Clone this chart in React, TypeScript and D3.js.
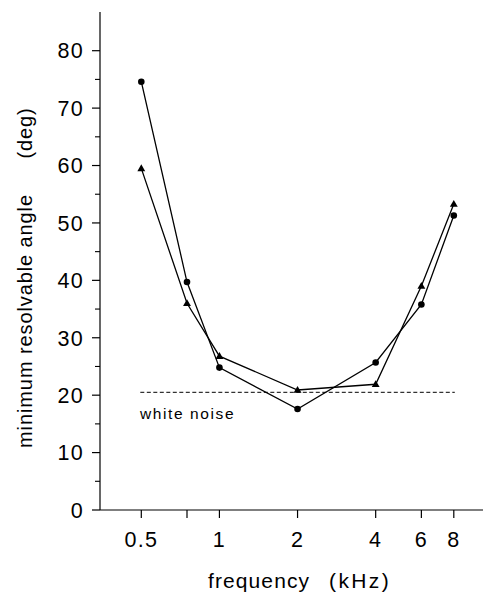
import React from "react";
import * as d3 from "d3";

const freqs = [0.5, 0.75, 1, 2, 4, 6, 8];
const circleSeries = [74.6, 39.7, 24.8, 17.6, 25.7, 35.8, 51.3];
const triangleSeries = [59.5, 36.0, 26.8, 20.9, 21.9, 39.0, 53.3];
const yMajorTicks = [0, 10, 20, 30, 40, 50, 60, 70, 80];
const yMinorTicks = [5, 15, 25, 35, 45, 55, 65, 75];
const xTicks = [0.5, 0.75, 1, 2, 4, 6, 8];
const xTickLabels = ["0.5", "", "1", "2", "4", "6", "8"];
const whiteNoiseLevel = 20.5;
const whiteNoiseRange = [0.5, 8];

const FONT = "'Liberation Sans', Arial, Helvetica, sans-serif";

export default function App() {
  const W = 484;
  const H = 597;
  const x = d3.scaleLog().domain([0.5, 8]).range([141.3, 453.8]);
  const y = d3.scaleLinear().domain([0, 80]).range([510, 50.7]);
  const axisX = 100;
  const axisY = y(0);

  const line = d3
    .line<number>()
    .x((_, i) => x(freqs[i]))
    .y((d) => y(d));

  const tri = d3.symbol(d3.symbolTriangle, 27)() as string;

  return (
    <svg
      width={W}
      height={H}
      style={{ position: "absolute", left: 0, top: 0, background: "#fff" }}
      fontFamily={FONT}
    >
      <rect x={0} y={0} width={W} height={H} fill="#fff" />
      {/* axes */}
      <line x1={axisX} x2={axisX} y1={12} y2={axisY} stroke="#000" strokeWidth={1.2} />
      <line x1={axisX} x2={483} y1={axisY} y2={axisY} stroke="#000" strokeWidth={1.2} />
      {yMajorTicks.map((t) => (
        <g key={"ym" + t}>
          <line x1={axisX - 8} x2={axisX} y1={y(t)} y2={y(t)} stroke="#000" strokeWidth={1.2} />
          <text
            x={84}
            y={y(t)}
            dy="0.36em"
            textAnchor="end"
            fontSize={21.5}
            letterSpacing={1.3}
            fill="#000"
          >
            {t}
          </text>
        </g>
      ))}
      {yMinorTicks.map((t) => (
        <line key={"yn" + t} x1={axisX - 5} x2={axisX} y1={y(t)} y2={y(t)} stroke="#000" strokeWidth={1.1} />
      ))}
      {xTicks.map((t, i) => (
        <g key={"x" + t}>
          <line x1={x(t)} x2={x(t)} y1={axisY} y2={axisY + 8} stroke="#000" strokeWidth={1.2} />
          {xTickLabels[i] && (
            <text
              x={x(t)}
              y={547}
              textAnchor="middle"
              fontSize={21.5}
              letterSpacing={1.3}
              fill="#000"
            >
              {xTickLabels[i]}
            </text>
          )}
        </g>
      ))}
      {/* axis titles */}
      <text x={208} y={588} fontSize={21} letterSpacing={1.1} fill="#000">
        frequency
      </text>
      <text x={329} y={588} fontSize={21} letterSpacing={2.4} fill="#000">
        (kHz)
      </text>
      <text
        transform={`translate(32,321) rotate(-90)`}
        textAnchor="middle"
        fontSize={20}
        letterSpacing={0.9}
        fill="#000"
      >
        minimum resolvable angle
      </text>
      <text
        transform={`translate(32,133) rotate(-90)`}
        textAnchor="middle"
        fontSize={20}
        letterSpacing={0.9}
        fill="#000"
      >
        (deg)
      </text>
      {/* white noise reference */}
      <line
        x1={x(whiteNoiseRange[0]) - 1}
        x2={x(whiteNoiseRange[1]) + 1}
        y1={y(whiteNoiseLevel)}
        y2={y(whiteNoiseLevel)}
        stroke="#000"
        strokeWidth={1}
        strokeDasharray="4,2.5"
      />
      <text x={140} y={419} fontSize={15.5} letterSpacing={1.6} fill="#000">
        white noise
      </text>
      {/* series */}
      <path d={line(circleSeries) || ""} fill="none" stroke="#000" strokeWidth={1.3} />
      <path d={line(triangleSeries) || ""} fill="none" stroke="#000" strokeWidth={1.3} />
      {circleSeries.map((v, i) => (
        <circle key={"c" + i} cx={x(freqs[i])} cy={y(v)} r={3.3} fill="#000" />
      ))}
      {triangleSeries.map((v, i) => (
        <path
          key={"t" + i}
          d={tri}
          transform={`translate(${x(freqs[i])},${y(v) + 0.5})`}
          fill="#000"
        />
      ))}
    </svg>
  );
}
